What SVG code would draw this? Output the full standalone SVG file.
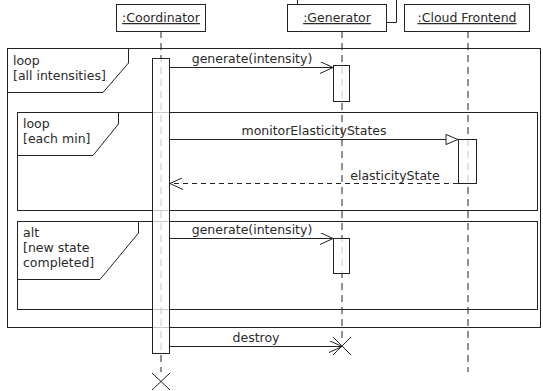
<svg xmlns="http://www.w3.org/2000/svg" width="543" height="391" viewBox="0 0 543 391">
<defs>
<style>
text{font-family:"DejaVu Sans",sans-serif;font-size:12.5px;fill:#2a2a2a}
.box{fill:#fff;stroke:#222;stroke-width:1}
.act{fill:#fff;fill-opacity:0.75;stroke:#222;stroke-width:1}
.frame{fill:none;stroke:#222;stroke-width:1}
.life{stroke:#222;stroke-width:1;stroke-dasharray:7,5;fill:none}
.msg{stroke:#222;stroke-width:1;fill:none}
.ret{stroke:#222;stroke-width:1;fill:none;stroke-dasharray:5,4}
.u{text-decoration:underline}
</style>
<marker id="open" markerWidth="14" markerHeight="12" refX="13" refY="6" orient="auto" markerUnits="userSpaceOnUse">
<path d="M0,0 L13,6 L0,12" fill="none" stroke="#222" stroke-width="1"/>
</marker>
<marker id="tri" markerWidth="14" markerHeight="12" refX="13" refY="6" orient="auto" markerUnits="userSpaceOnUse">
<path d="M1,1 L13,6 L1,11 Z" fill="#fff" stroke="#222" stroke-width="1"/>
</marker>
</defs>

<g id="lifelines">
<line class="life" x1="161" y1="31" x2="161" y2="372"/>
<line class="life" x1="342" y1="31" x2="342" y2="340"/>
<line class="life" x1="468" y1="31" x2="468" y2="372"/>
</g>

<g id="frame-loop-all">
<rect class="frame" x="7.5" y="48.5" width="533" height="279"/>
<path class="frame" d="M7.5,92.5 H103 L128.5,63 V48.5"/>
<text x="13" y="65">loop</text>
<text x="13" y="80">[all intensities]</text>
</g>
<g id="frame-loop-min">
<rect class="frame" x="17.5" y="112.5" width="520" height="98"/>
<path class="frame" d="M17.5,155.5 H93 L118.5,124 V112.5"/>
<text x="23" y="128">loop</text>
<text x="23" y="143">[each min]</text>
</g>
<g id="frame-alt">
<rect class="frame" x="17.5" y="221.5" width="520" height="88"/>
<path class="frame" d="M17.5,279.5 H100 L138.5,233 V221.5"/>
<text x="23" y="237">alt</text>
<text x="23" y="252">[new state</text>
<text x="23" y="267">completed]</text>
</g>

<g id="coordinator">
<rect class="box" x="116.5" y="4.5" width="89" height="27"/>
<text class="u" x="161" y="22" text-anchor="middle">:Coordinator</text>
<rect class="act" x="152.5" y="58.5" width="17" height="295"/>
<path class="msg" d="M152,373 L170,390 M170,373 L152,390"/>
</g>
<g id="generator">
<path class="msg" d="M297.5,0 V4.5 M396.5,0 V22.5 H386.5"/>
<rect class="box" x="287.5" y="4.5" width="99" height="27"/>
<text class="u" x="337" y="22" text-anchor="middle">:Generator</text>
<rect class="act" x="333.5" y="65.5" width="16" height="36"/>
<rect class="act" x="333.5" y="238.5" width="16" height="35"/>
<path class="msg" d="M333,337 L351,355 M351,337 L333,355"/>
</g>
<g id="cloud-frontend">
<rect class="box" x="404.5" y="4.5" width="125" height="27"/>
<text class="u" x="467" y="22" text-anchor="middle">:Cloud Frontend</text>
<rect class="act" x="458.5" y="139.5" width="18" height="44"/>
</g>

<g id="connectors">
<line class="msg" x1="170" y1="67.5" x2="333" y2="67.5" marker-end="url(#open)"/>
<text x="252" y="63" text-anchor="middle">generate(intensity)</text>
<line class="msg" x1="170" y1="139.5" x2="458" y2="139.5" marker-end="url(#tri)"/>
<text x="314" y="135" text-anchor="middle">monitorElasticityStates</text>
<line class="ret" x1="458" y1="183.5" x2="170" y2="183.5" marker-end="url(#open)"/>
<text x="395" y="180" text-anchor="middle">elasticityState</text>
<line class="msg" x1="170" y1="238.5" x2="333" y2="238.5" marker-end="url(#open)"/>
<text x="252" y="234" text-anchor="middle">generate(intensity)</text>
<line class="msg" x1="170" y1="346.5" x2="342" y2="346.5" marker-end="url(#open)"/>
<text x="256" y="342" text-anchor="middle">destroy</text>
</g>
</svg>
